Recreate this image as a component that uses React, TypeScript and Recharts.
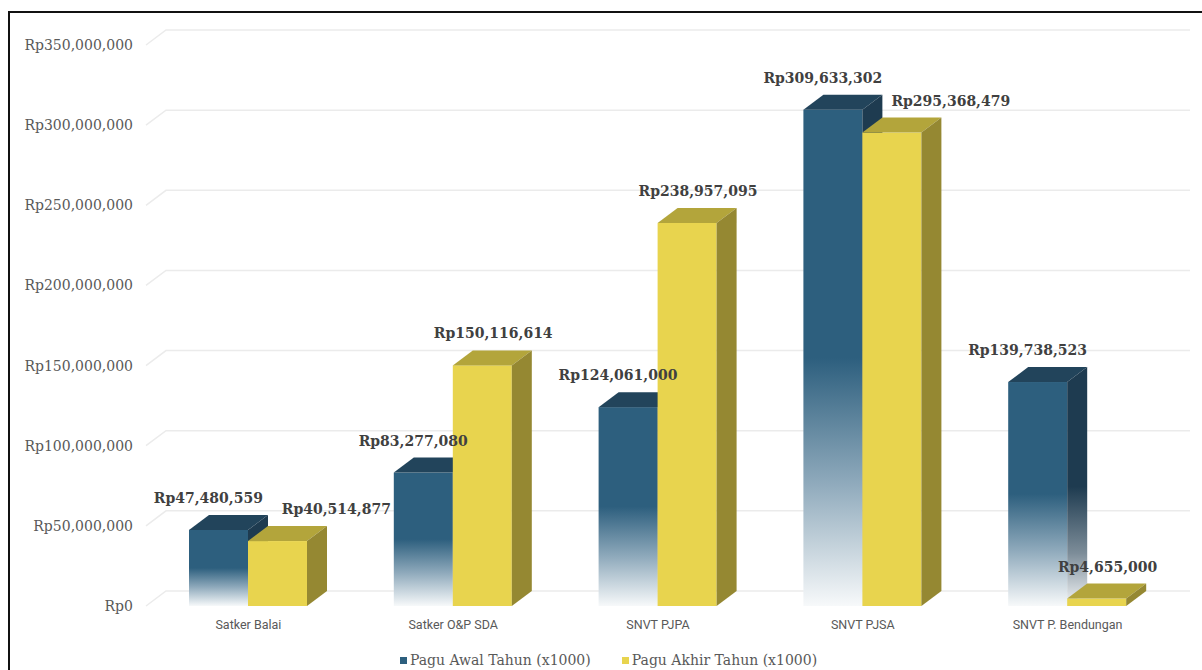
import * as React from 'react';
import { ComposedChart, Bar, Line, XAxis, YAxis, CartesianGrid, LabelList, Legend } from 'recharts';

const categories = ['Satker Balai', 'Satker O&P SDA', 'SNVT PJPA', 'SNVT PJSA', 'SNVT P. Bendungan'];
const paguAwal = [47480559, 83277080, 124061000, 309633302, 139738523];
const paguAkhir = [40514877, 150116614, 238957095, 295368479, 4655000];
const yTicks = [0, 50000000, 100000000, 150000000, 200000000, 250000000, 300000000, 350000000];
const seriesNames = ['Pagu Awal Tahun (x1000)', 'Pagu Akhir Tahun (x1000)'];

const data = categories.map((name, i) => ({ name, awal: paguAwal[i], akhir: paguAkhir[i] }));

const DX = 20;
const DY = 15;
const BAR = 59;
const SERIF = '"DejaVu Serif", serif';

const rp = (v: number) => 'Rp' + v.toLocaleString('en-US');

function box(front: string, top: string, side: string) {
  return (p: any) => {
    const { x, y, width: w, height: h } = p;
    if (w == null || h == null) return <g />;
    return <g>
      <rect x={x} y={y} width={w} height={h} fill={front} />
      <polygon points={`${x},${y} ${x + DX},${y - DY} ${x + w + DX},${y - DY} ${x + w},${y}`} fill={top} />
      <polygon points={`${x + w},${y} ${x + w + DX},${y - DY} ${x + w + DX},${y + h - DY} ${x + w},${y + h}`} fill={side} />
    </g>;
  };
}

// yellow labels move further right when they would collide with the blue one
function valueLabel(series: 'awal' | 'akhir') {
  return (p: any) => {
    const { x, y, value, index } = p;
    if (x == null || y == null) return null;
    let shift = -40;
    if (series === 'akhir') {
      const close = Math.abs(paguAwal[index] - paguAkhir[index]) < 20000000;
      shift = close ? 88 : 40;
    }
    return <text x={x + shift} y={y - DY - 17} textAnchor="middle" dominantBaseline="central"
      fontFamily={SERIF} fontWeight="bold" fontSize={14} fill="#404040">{rp(value)}</text>;
  };
}

function gridLine(p: any) {
  const { x1, y1, x2, key } = p;
  return <path key={key} d={`M${x1},${y1} L${x1 + DX},${y1 - DY} L${x2 + DX},${y1 - DY}`}
    stroke="#EBEBEB" strokeWidth={1.5} fill="none" />;
}

function LegendBox() {
  const colors = ['#2D5F7E', '#E8D44E'];
  return <div style={{ display: 'flex', justifyContent: 'center', paddingLeft: 78, paddingTop: 16, fontFamily: SERIF, fontSize: 14, color: '#595959' }}>
    {seriesNames.map((n, i) => <span key={n} style={{ display: 'flex', alignItems: 'center', marginRight: 31 }}>
      <span style={{ width: 7, height: 7, background: colors[i], marginRight: 3, display: 'inline-block' }} />
      {n}
    </span>)}
  </div>;
}

export default function App() {
  return <div style={{ position: 'absolute', left: 0, top: 0, width: 1202, height: 670, overflow: 'hidden', background: '#fff' }}>
    <div style={{ position: 'absolute', left: 8, top: 11, width: 1220, height: 700, border: '2px solid #111' }} />
    <div style={{ position: 'absolute', left: 0, top: 0 }}>
      <ComposedChart width={1202} height={670} data={data} barGap={0}
        margin={{ top: 45, right: 32, bottom: 0, left: 0 }}>
        <defs>
          <linearGradient id="blueFront" x1="0" y1="0" x2="0" y2="1">
            <stop offset="0" stopColor="#2D5F7E" />
            <stop offset="0.5" stopColor="#2D5F7E" />
            <stop offset="0.75" stopColor="#8EA9BB" />
            <stop offset="1" stopColor="#F7F9FA" />
          </linearGradient>
          <linearGradient id="blueSide" x1="0" y1="0" x2="0" y2="1">
            <stop offset="0" stopColor="#1E3B50" />
            <stop offset="0.5" stopColor="#1E3B50" />
            <stop offset="0.78" stopColor="#7D8D99" />
            <stop offset="1" stopColor="#F4F6F7" />
          </linearGradient>
        </defs>
        <CartesianGrid vertical={false} horizontal={gridLine} />
        <XAxis dataKey="name" height={30} axisLine={false} tickLine={false} tickSize={0} tickMargin={14}
          tick={{ fontFamily: 'Roboto, sans-serif', fontSize: 12.5, fill: '#595959' }} />
        <YAxis width={146} domain={[0, 350000000]} ticks={yTicks} axisLine={false} tickLine={false}
          tickSize={0} tickMargin={13} tickFormatter={rp}
          tick={{ fontFamily: SERIF, fontSize: 14, fill: '#595959' }} />
        <Legend verticalAlign="bottom" wrapperStyle={{ height: 34 }} content={() => <LegendBox />} />
        <Bar dataKey="awal" barSize={BAR} isAnimationActive={false}
          shape={box('url(#blueFront)', '#22445B', 'url(#blueSide)')} />
        <Bar dataKey="akhir" barSize={BAR} isAnimationActive={false}
          shape={box('#E8D44E', '#B3A53B', '#958832')} />
        <Line dataKey="awal" stroke="none" dot={false} activeDot={false} isAnimationActive={false} legendType="none">
          <LabelList dataKey="awal" content={valueLabel('awal')} />
        </Line>
        <Line dataKey="akhir" stroke="none" dot={false} activeDot={false} isAnimationActive={false} legendType="none">
          <LabelList dataKey="akhir" content={valueLabel('akhir')} />
        </Line>
      </ComposedChart>
    </div>
  </div>;
}
